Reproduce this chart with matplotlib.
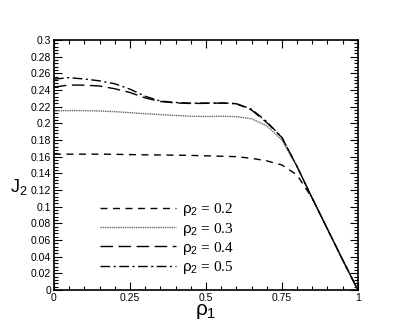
import numpy as np
import matplotlib.pyplot as plt
from matplotlib.ticker import MultipleLocator

plt.rcParams["mathtext.fontset"] = "custom"
plt.rcParams["mathtext.rm"] = "Liberation Sans"
plt.rcParams["mathtext.it"] = "Liberation Sans"

# ---- data ----
rho1 = [0.0, 0.05, 0.1, 0.15, 0.2, 0.25, 0.3, 0.35, 0.4, 0.45, 0.5, 0.55,
        0.6, 0.65, 0.7, 0.75, 0.8, 0.85, 0.9, 0.95, 1.0]

J_02 = [0.163, 0.163, 0.163, 0.163, 0.1628, 0.1625, 0.1622, 0.162, 0.1618,
        0.1615, 0.161, 0.1605, 0.160, 0.158, 0.155, 0.150, 0.138, 0.110,
        0.073, 0.036, 0.0]
J_03 = [0.215, 0.2153, 0.2152, 0.2148, 0.214, 0.2128, 0.2115, 0.2105, 0.2095,
        0.2085, 0.2082, 0.2085, 0.208, 0.2055, 0.197, 0.180, 0.148, 0.110,
        0.073, 0.036, 0.0]
J_04 = [0.2435, 0.246, 0.2458, 0.2448, 0.2415, 0.237, 0.2305, 0.2262, 0.2245,
        0.2238, 0.224, 0.2243, 0.2235, 0.216, 0.201, 0.183, 0.148, 0.110,
        0.073, 0.036, 0.0]
J_05 = [0.253, 0.2548, 0.2532, 0.251, 0.2475, 0.241, 0.2325, 0.2268, 0.225,
        0.2242, 0.2243, 0.2245, 0.2237, 0.217, 0.202, 0.183, 0.148, 0.110,
        0.073, 0.036, 0.0]

labels = ["0.2", "0.3", "0.4", "0.5"]

fig = plt.figure(figsize=(4.09, 3.28), dpi=100)
ax = fig.add_axes([0.132, 0.116, 0.743, 0.762])

ax.plot(rho1, J_02, color="black", lw=1.0, dashes=(5, 4),
        label=r"$\rho_2$ = " + labels[0])
ax.plot(rho1, J_03, color="dimgray", lw=1.0, ls=(0, (1, 0.6)),
        label=r"$\rho_2$ = " + labels[1])
ax.plot(rho1, J_04, color="black", lw=1.0, dashes=(9, 4),
        label=r"$\rho_2$ = " + labels[2])
ax.plot(rho1, J_05, color="black", lw=1.0, dashes=(7, 2.5, 1.5, 2.5),
        label=r"$\rho_2$ = " + labels[3])

ax.set_xlim(0, 1)
ax.set_ylim(0, 0.3)
ax.set_xticks([0, 0.25, 0.5, 0.75, 1])
ax.set_xticklabels(["0", "0.25", "0.5", "0.75", "1"])
ax.set_yticks(np.arange(0, 0.301, 0.02))
ax.set_yticklabels(["0", "0.02", "0.04", "0.06", "0.08", "0.1", "0.12",
                    "0.14", "0.16", "0.18", "0.2", "0.22", "0.24", "0.26",
                    "0.28", "0.3"])
ax.xaxis.set_minor_locator(MultipleLocator(0.05))
ax.yaxis.set_minor_locator(MultipleLocator(0.004))

ax.tick_params(which="both", direction="in", top=True, right=True,
               labelsize=7.5, width=0.8, pad=2)
ax.tick_params(which="major", length=6)
ax.tick_params(which="minor", length=3)
for sp in ax.spines.values():
    sp.set_linewidth(1.2)

for t in ax.get_xticklabels() + ax.get_yticklabels():
    t.set_family("Liberation Sans")

ax.set_xlabel(r"$\rho_1$", fontsize=15, labelpad=-1)
ax.set_ylabel(r"J$_2$", fontsize=13, rotation=0, va="center",
              family="Liberation Sans")
ax.yaxis.set_label_coords(-0.115, 0.41)

ax.legend(loc="upper left", bbox_to_anchor=(0.151, 0.355), frameon=False,
          borderpad=0, borderaxespad=0,
          handlelength=5.0, handletextpad=0.4, labelspacing=0.15,
          prop={"family": "Liberation Serif", "size": 11})

fig.savefig("out.png", dpi=100)
